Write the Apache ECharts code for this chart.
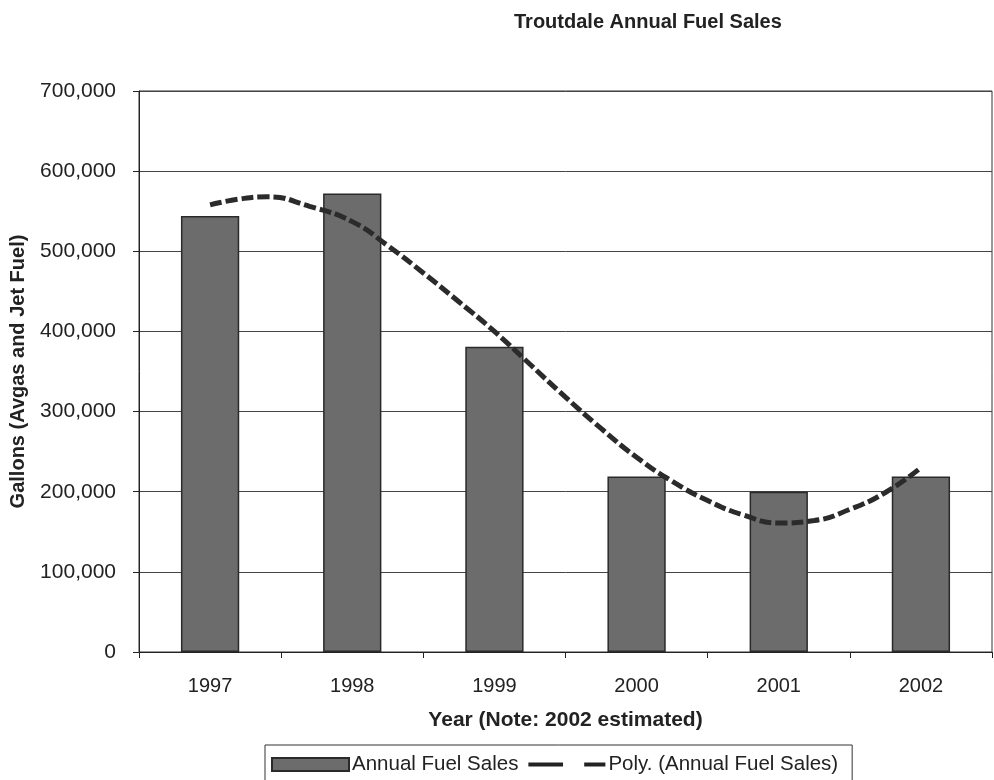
<!DOCTYPE html>
<html><head><meta charset="utf-8">
<script src="https://cdn.jsdelivr.net/npm/echarts@6/dist/echarts.min.js"></script>
<style>html,body{margin:0;padding:0;background:#fff}#c{width:994px;height:780px}</style>
</head><body><div id="c"></div>
<script>
var years = ['1997','1998','1999','2000','2001','2002'];
var sales = [544000, 572000, 381000, 219000, 200000, 219000];
// trend curve: position along category axis (0 = 1997) and value
var trendPos = [0, 0.2, 0.4, 0.7, 1, 1.25, 1.5, 1.75, 2, 2.25, 2.5, 2.75, 3, 3.25, 3.5, 3.75, 4, 4.25, 4.5, 4.75, 5];
var trendVal = [558000, 565000, 568000, 556000, 537000, 507000, 473000, 437000, 400000, 359000, 318000, 279000, 243000, 213000, 189000, 171000, 161000, 164000, 178000, 199000, 230000];
var yTicks = [0, 100000, 200000, 300000, 400000, 500000, 600000, 700000];

var trendData = trendPos.map(function(p, i){ return [p, trendVal[i]]; });
var font = 'Liberation Sans, Arial, sans-serif';
var chart = echarts.init(document.getElementById('c'));
chart.setOption({
  backgroundColor: '#fff',
  animation: false,
  title: {text: 'Troutdale Annual Fuel Sales', left: 509, top: 7,
    textStyle: {fontFamily: font, fontSize: 20, fontWeight: 'bold', color: '#222'}},
  grid: {left: 138, right: 2, top: 91, bottom: 128, show: true, borderColor: '#333', borderWidth: 1, backgroundColor: 'transparent'},
  xAxis: [{
    type: 'category', data: years,
    axisLine: {lineStyle: {color: '#222', width: 1}},
    axisTick: {show: true, length: 6, lineStyle: {color: '#222'}},
    axisLabel: {fontFamily: font, fontSize: 20, color: '#222', margin: 24},
    name: 'Year (Note: 2002 estimated)', nameLocation: 'middle', nameGap: 58,
    nameTextStyle: {fontFamily: font, fontSize: 21, fontWeight: 'bold', color: '#222'}
  }, {
    type: 'value', min: -0.5, max: 5.5, show: false
  }],
  yAxis: {
    type: 'value', min: 0, max: 700000, interval: 100000,
    axisLine: {show: true, onZero: false, lineStyle: {color: '#222', width: 1}},
    axisTick: {show: true, length: 6, lineStyle: {color: '#222'}},
    splitLine: {lineStyle: {color: '#444', width: 1}},
    axisLabel: {fontFamily: font, fontSize: 21, color: '#222', margin: 23,
      formatter: function(v){ return v.toString().replace(/\B(?=(\d{3})+(?!\d))/g, ','); }},
    name: 'Gallons (Avgas and Jet Fuel)', nameLocation: 'middle', nameGap: 111, nameRotate: 90,
    nameTextStyle: {fontFamily: font, fontSize: 20, fontWeight: 'bold', color: '#222'}
  },
  legend: {
    left: 265, top: 745, orient: 'horizontal',
    padding: [9, 14, 9, 6], itemGap: 10, itemWidth: 77, itemHeight: 13,
    borderColor: '#333', borderWidth: 1, borderRadius: 0,
    textStyle: {fontFamily: font, fontSize: 20.5, color: '#222', padding: [0,0,0,-2]},
    data: [
      {name: 'Annual Fuel Sales', icon: 'rect'},
      {name: 'Poly. (Annual Fuel Sales)', icon: 'path://M0,0 L36,0 L36,4 L0,4 Z M58,0 L80,0 L80,4 L58,4 Z',
       itemStyle: {color: '#222'}}
    ]
  },
  series: [{
    name: 'Annual Fuel Sales', type: 'bar', data: sales, barWidth: '41%',
    itemStyle: {color: '#6c6c6c', borderColor: '#2a2a2a', borderWidth: 1.5}
  }, {
    name: 'Poly. (Annual Fuel Sales)', type: 'line', xAxisIndex: 1, data: trendData,
    smooth: 0.5, symbol: 'none',
    lineStyle: {color: '#2b2b2b', width: 5, type: [12, 4]},
    itemStyle: {color: '#2b2b2b'}
  }]
});
</script></body></html>
